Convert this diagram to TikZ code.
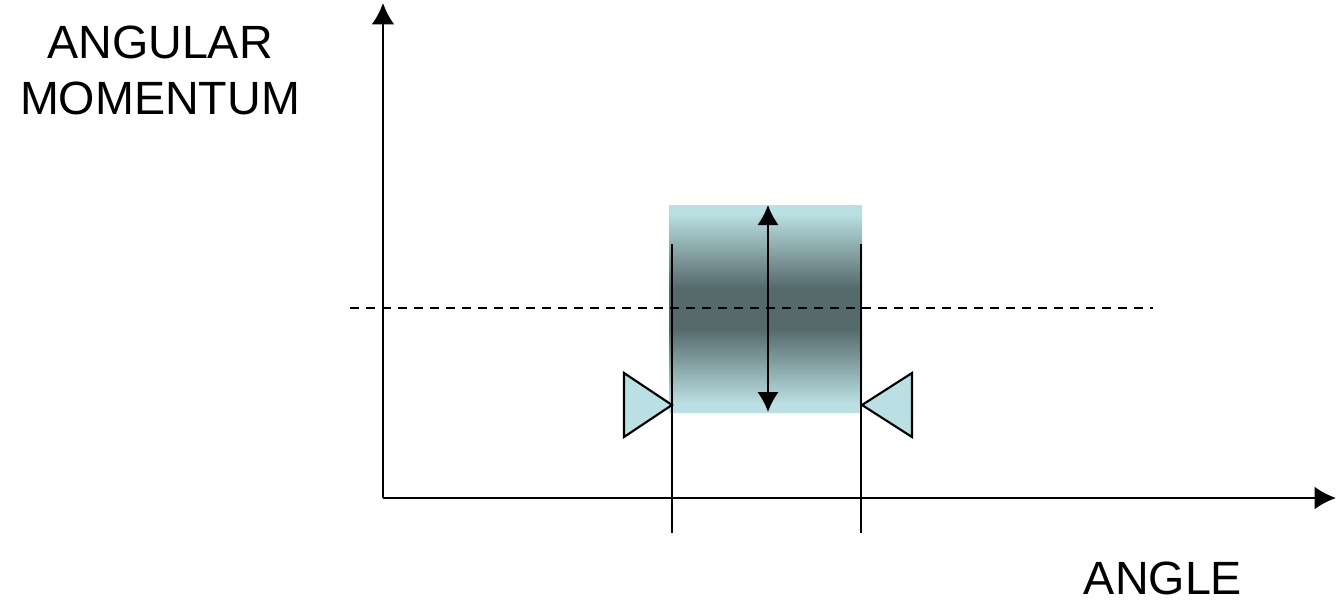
\documentclass[tikz,border=0pt]{standalone}
\usepackage{fontspec}
\setmainfont{Liberation Sans}
\usetikzlibrary{arrows.meta}
\definecolor{lightb}{RGB}{187,224,227}
\definecolor{darkb}{RGB}{86,106,108}
\pgfdeclareverticalshading{gband}{100bp}{color(0bp)=(lightb); color(27bp)=(lightb); color(45bp)=(darkb); color(55bp)=(darkb); color(73bp)=(lightb); color(100bp)=(lightb)}
\begin{document}
\begin{tikzpicture}[x=0.75pt,y=-0.75pt,
  lbl/.style={font=\fontsize{35}{42}\selectfont, align=center, inner sep=0pt},
  tri/.style={draw=black, line width=1.6pt, fill=lightb, line join=miter},
  vline/.style={line width=1.6pt},
  tip/.style={-{Latex[length=16pt,width=17pt]}}]
\useasboundingbox (0,0) rectangle (1336,603);
% gradient box
\shade[shading=gband] (669,205) rectangle (862,412);
% axes
\coordinate (O) at (383,498);
\coordinate (Ytip) at (383,3);
\coordinate (Xtip) at (1336,498);
\draw[line width=1.6pt,tip] (O) -- (Ytip);
\draw[line width=1.6pt,tip] (O) -- (Xtip);
% dashed line
\coordinate (D1) at (350,308);
\coordinate (D2) at (1153,308);
\draw[line width=1.6pt, dash pattern=on 7pt off 5pt] (D1) -- (D2);
% vertical lines
\coordinate (L1) at (672,244); \coordinate (L2) at (672,533);
\coordinate (R1) at (861,244); \coordinate (R2) at (861,533);
\draw[vline] (L1) -- (L2);
\draw[vline] (R1) -- (R2);
% double arrow
\coordinate (A1) at (768,205); \coordinate (A2) at (768,412);
\draw[line width=1.6pt,{Latex[length=15pt,width=16pt]}-{Latex[length=15pt,width=16pt]}] (A1) -- (A2);
% triangles
\draw[tri] (624,373) -- (624,437) -- (672,405) -- cycle;
\draw[tri] (912,373) -- (912,437) -- (862,405) -- cycle;
% labels
\node[lbl] (ylab) at (160,70) {ANGULAR\\MOMENTUM};
\node[lbl] (xlab) at (1163,578) {ANGLE};
\end{tikzpicture}
\end{document}
